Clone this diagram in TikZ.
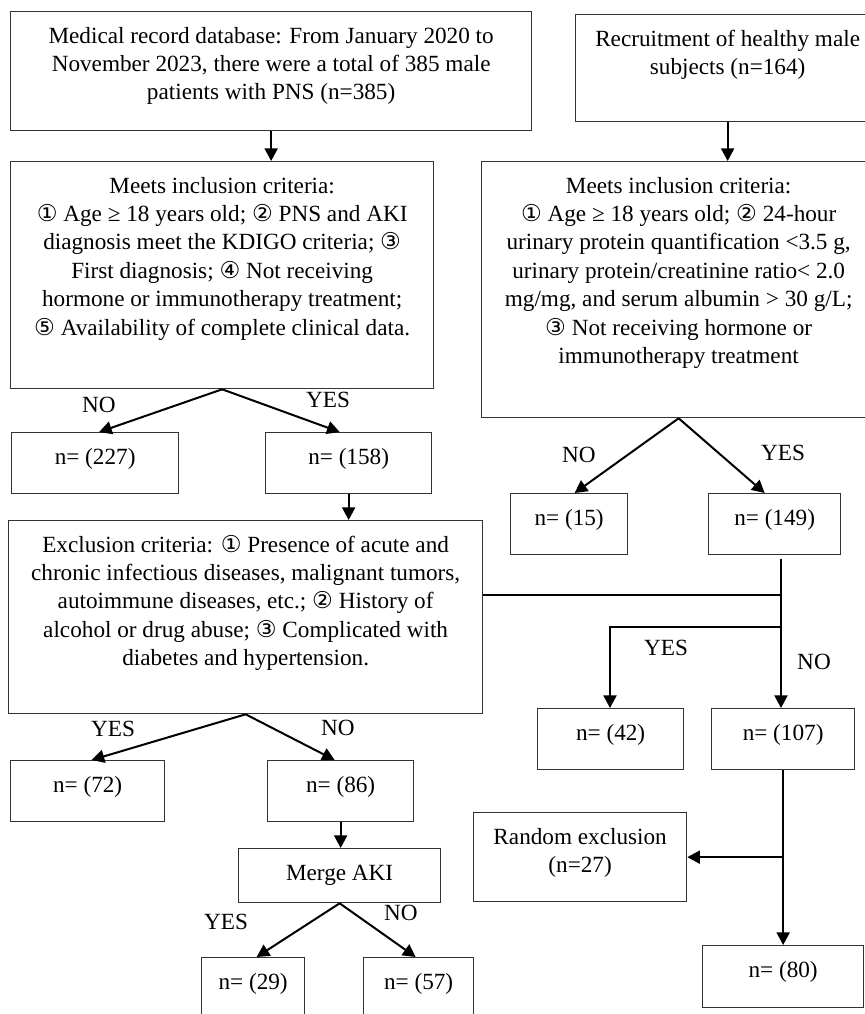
\documentclass[tikz,border=0pt]{standalone}
\usepackage{fontspec}
\setmainfont{Liberation Serif}
\newfontfamily\circfont{DejaVu Sans}
\usepackage{tikz}
\usetikzlibrary{arrows.meta}
\newcommand{\cn}[1]{{\circfont #1}}
\newcommand{\boxtext}[3]{\parbox[c][#2][t]{#1}{\centering\vspace*{5.75pt}\strut#3\par}}
\tikzset{
  box/.style={rectangle, draw=black!80, line width=0.65pt, inner sep=0pt, anchor=north west},
  lab/.style={inner sep=0pt}
}

\begin{document}
\begin{tikzpicture}[x=0.5pt, y=-0.5pt, line width=1pt, >={Triangle[length=6.3pt,width=6.5pt]},
    every node/.style={font=\fontsize{11.6}{14.2}\selectfont}]
    \useasboundingbox (0,0) rectangle (865,1014);
    % Define nodes
    \node (A) [box] at (10,11) {\boxtext{260.5pt}{59.5pt}{Medical record database: From January 2020 to\\ November 2023, there were a total of 385 male\\ patients with PNS (n=385)}};
    \node (B) [box] at (575,14) {\boxtext{152pt}{53.5pt}{Recruitment of healthy male\\ subjects (n=164)}};
    \node (C) [box] at (10,161) {\boxtext{211.5pt}{113.5pt}{Meets inclusion criteria:\\ \cn{①} Age ≥ 18 years old; \cn{②} PNS and AKI\\ diagnosis meet the KDIGO criteria; \cn{③}\\ First diagnosis; \cn{④} Not receiving\\ hormone or immunotherapy treatment;\\ \cn{⑤} Availability of complete clinical data.}};
    \node (D) [box] at (481,161) {\boxtext{197pt}{128pt}{Meets inclusion criteria:\\ \cn{①} Age ≥ 18 years old; \cn{②} 24-hour\\ urinary protein quantification <3.5 g,\\ urinary protein/creatinine ratio< 2.0\\ mg/mg, and serum albumin > 30 g/L;\\ \cn{③} Not receiving hormone or\\ immunotherapy treatment}};
    \node (n227) [box] at (11,432) {\boxtext{83.5pt}{30.5pt}{n= (227)}};
    \node (n158) [box] at (265,432) {\boxtext{83pt}{30.5pt}{n= (158)}};
    \node (n15) [box] at (510,493) {\boxtext{58.5pt}{30.5pt}{n= (15)}};
    \node (n149) [box] at (708,493) {\boxtext{66pt}{30.5pt}{n= (149)}};
    \node (Excl) [box] at (8,520) {\boxtext{237pt}{96.5pt}{Exclusion criteria: \cn{①} Presence of acute and\\ chronic infectious diseases, malignant tumors,\\ autoimmune diseases, etc.; \cn{②} History of\\ alcohol or drug abuse; \cn{③} Complicated with\\ diabetes and hypertension.}};
    \node (n42) [box] at (537,708) {\boxtext{73pt}{30.5pt}{n= (42)}};
    \node (n107) [box] at (711,708) {\boxtext{71.5pt}{30.5pt}{n= (107)}};
    \node (n72) [box] at (10,760) {\boxtext{77pt}{30.5pt}{n= (72)}};
    \node (n86) [box] at (267,760) {\boxtext{73pt}{30.5pt}{n= (86)}};
    \node (Merge) [box] at (238,848) {\boxtext{101pt}{27pt}{Merge AKI}};
    \node (Random) [box] at (473,812) {\boxtext{106.5pt}{44.5pt}{Random exclusion\\ (n=27)}};
    \node (n29) [box] at (201,957) {\boxtext{51.5pt}{35pt}{n= (29)}};
    \node (n57) [box] at (363,957) {\boxtext{55pt}{35pt}{n= (57)}};
    \node (n80) [box] at (702,945) {\boxtext{80.5pt}{31pt}{n= (80)}};

    % Labels
    \node (noC) [lab] at (99,405) {NO};
    \node (yesC) [lab] at (328,400) {YES};
    \node (noD) [lab] at (579,455) {NO};
    \node (yesD) [lab] at (783,453) {YES};
    \node (yesR) [lab] at (666,648) {YES};
    \node (noR) [lab] at (814,662) {NO};
    \node (yesE) [lab] at (113,729) {YES};
    \node (noE) [lab] at (338,728) {NO};
    \node (yesM) [lab] at (226,922) {YES};
    \node (noM) [lab] at (401,913) {NO};

    % Junctions
    \coordinate (j1) at (781,595);
    \coordinate (j2) at (781,627);
    \coordinate (j3) at (610,627);
    \coordinate (j4) at (n107.south |- Random.east);

    % Draw edges
    \draw[->] (A.south) -- (A.south |- C.north);
    \draw[->] (B.south) -- (B.south |- D.north);
    \draw[->] (C.south) -- ([xshift=2pt]n227.north);
    \draw[->] (C.south) -- ([xshift=-4.5pt]n158.north);
    \draw[->] (D.south) -- ([xshift=2.75pt]n15.north);
    \draw[->] (D.south) -- ([xshift=-5pt]n149.north);
    \draw[->] (n158.south) -- (n158.south |- Excl.north);
    \draw[->] (Excl.south) -- ([xshift=2pt]n72.north);
    \draw[->] (Excl.south) -- ([xshift=-3pt]n86.north);
    \draw[->] (n86.south) -- (n86.south |- Merge.north);
    \draw[->] (Merge.south) -- ([xshift=1.75pt]n29.north);
    \draw[->] (Merge.south) -- ([xshift=-1.5pt]n57.north);
    \draw ([yshift=-2pt]n149.south -| j1) -- (j1) -- (j1 -| Excl.east);
    \draw[->] (j1) -- (j2) -- (j2 |- n107.north);
    \draw[->] (j2) -- (j3) -- (j3 |- n42.north);
    \draw[->] (n107.south) -- (n80.north);
    \draw[->] (j4) -- (Random.east);
\end{tikzpicture}
\end{document}
